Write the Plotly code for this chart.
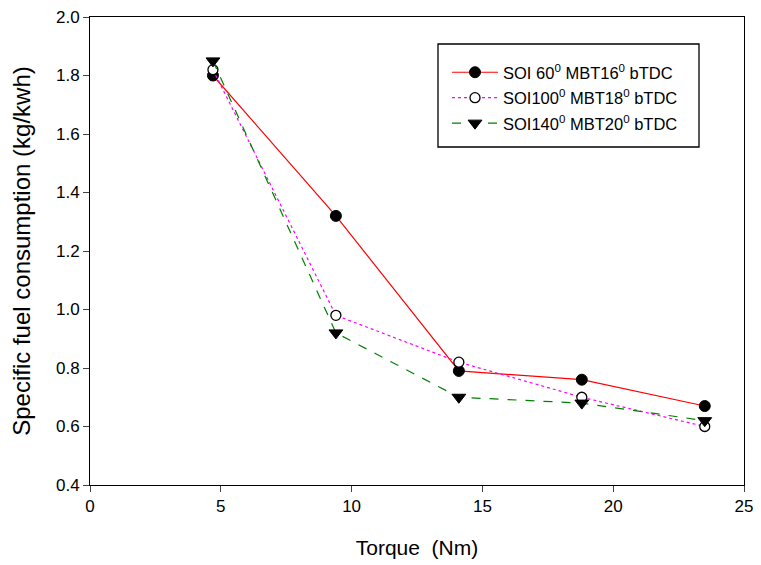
import plotly.graph_objects as go

torque = [4.7, 9.4, 14.1, 18.8, 23.5]
sfc_soi60 = [1.80, 1.32, 0.79, 0.76, 0.67]
sfc_soi100 = [1.82, 0.98, 0.82, 0.70, 0.60]
sfc_soi140 = [1.85, 0.92, 0.70, 0.68, 0.62]
names = ["SOI 60<sup>0</sup> MBT16<sup>0</sup> bTDC",
         "SOI100<sup>0</sup> MBT18<sup>0</sup> bTDC",
         "SOI140<sup>0</sup> MBT20<sup>0</sup> bTDC"]
x_ticks = [0, 5, 10, 15, 20, 25]
y_ticks = [0.4, 0.6, 0.8, 1.0, 1.2, 1.4, 1.6, 1.8, 2.0]

FONT = "Liberation Sans, Arial, sans-serif"

# page has an 8px body margin; figure sits at (8, 8)
W, H = 753, 557
L, R, T, B = 82, 17, 9, 80
PW, PH = W - L - R, H - T - B

def px_x(page_x):
    return (page_x - 8 - L) / PW

def px_y(page_y):
    return (H - B + 8 - page_y) / PH

fig = go.Figure()
fig.add_trace(go.Scatter(x=torque, y=sfc_soi60, name=names[0], mode="lines+markers",
                         legendgroup="a",
                         line=dict(color="#ff0000", width=1.2),
                         marker=dict(symbol="circle", size=11, color="black",
                                     line=dict(color="black", width=1))))
fig.add_trace(go.Scatter(x=torque, y=sfc_soi100, name=names[1], mode="lines+markers",
                         legendgroup="b",
                         line=dict(color="#ff00ff", width=1.2, dash="dot"),
                         marker=dict(symbol="circle", size=10, color="white",
                                     line=dict(color="black", width=1.3))))
fig.add_trace(go.Scatter(x=torque, y=sfc_soi140, name=names[2], mode="lines+markers",
                         legendgroup="c",
                         line=dict(color="#008000", width=1.2, dash="dash"),
                         marker=dict(symbol="triangle-down", size=12, color="black",
                                     line=dict(color="black", width=1))))

fig.update_layout(
    width=W, height=H,
    margin=dict(l=L, r=R, t=T, b=B, autoexpand=False),
    paper_bgcolor="white", plot_bgcolor="white",
    font=dict(family=FONT, size=17, color="black"),
    showlegend=True,
    legend=dict(x=px_x(447), y=px_y(55), xanchor="left", yanchor="top",
                bgcolor="rgba(0,0,0,0)", borderwidth=0,
                font=dict(family=FONT, size=16.5, color="black"),
                itemwidth=46, tracegroupgap=1),
    shapes=[dict(type="rect", xref="paper", yref="paper",
                 x0=px_x(438), x1=px_x(699),
                 y0=px_y(147), y1=px_y(44),
                 line=dict(color="black", width=1.3), fillcolor="rgba(0,0,0,0)")],
)
fig.update_xaxes(range=[0, 25], tickvals=x_ticks, ticks="outside", ticklen=6,
                 showline=True, linecolor="black", linewidth=1, mirror=True,
                 showgrid=False, zeroline=False, ticklabeloverflow="allow",
                 automargin=False,
                 title=dict(text="Torque  (Nm)", font=dict(size=21), standoff=24),
                 tickfont=dict(size=17))
fig.update_yaxes(range=[0.4, 2.0], tickvals=y_ticks, tickformat=".1f",
                 ticks="outside", ticklen=6,
                 showline=True, linecolor="black", linewidth=1, mirror=True,
                 showgrid=False, zeroline=False, ticklabeloverflow="allow",
                 automargin=False,
                 title=dict(text="Specific fuel consumption (kg/kwh)", font=dict(size=24), standoff=22),
                 tickfont=dict(size=17))

fig.write_html("out.html")
